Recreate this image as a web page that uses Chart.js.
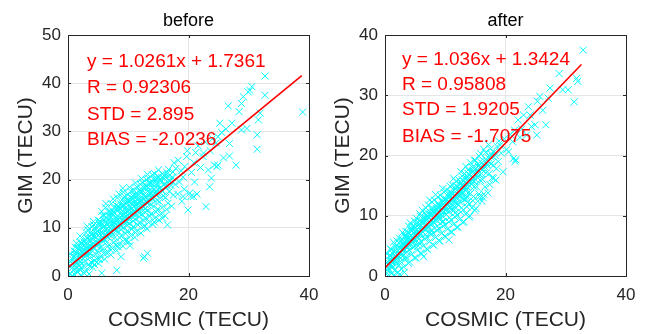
<!DOCTYPE html>
<html>
<head>
<meta charset="utf-8">
<script src="https://cdn.jsdelivr.net/npm/chart.js@4.4.1/dist/chart.umd.min.js"></script>
<style>
  body { margin: 0; background: #fff; width: 646px; height: 334px; overflow: hidden; position: relative; }
  canvas { position: absolute; top: 0; }
  #before { left: 0; }
  #after { left: 317px; }
</style>
</head>
<body>
<canvas id="before" width="323" height="334"></canvas>
<canvas id="after" width="323" height="334"></canvas>
<script>
// panel titles and text
const titles = ["before", "after"];
const xLabel = "COSMIC (TECU)";
const yLabel = "GIM (TECU)";
const statsBefore = ["y = 1.0261x + 1.7361", "R = 0.92306", "STD = 2.895", "BIAS = -2.0236"];
const statsAfter = ["y = 1.036x + 1.3424", "R = 0.95808", "STD = 1.9205", "BIAS = -1.7075"];

// axis ranges / ticks
const xTicks = [0, 20, 40];
const yMaxBefore = 50;
const yMaxAfter = 40;

// fitted lines (endpoints)
const fitBeforeX = [0, 38.8];
const fitBeforeY = [1.74, 41.55];
const fitAfterX = [0, 32.6];
const fitAfterY = [1.34, 35.1];

// scatter points [COSMIC, GIM]
const pointsBefore = [
  [0.3,0.5],[0.5,2.1],[0.8,3.4],[0.4,4.6],[0.9,1.2],[0.2,0.2],[0.7,0.1],[1.0,2.8],
  [1.1,0.3],[1.3,1.6],[1.5,3.0],[1.2,4.4],[1.7,5.6],[1.9,2.2],[1.4,6.8],[1.6,0.8],[1.8,4.0],[1.0,5.2],[1.5,1.0],
  [2.1,0.2],[2.3,1.5],[2.6,2.9],[2.2,4.1],[2.8,5.3],[2.4,6.5],[2.9,7.6],[2.5,3.6],[2.7,0.6],[2.0,8.3],[2.3,5.8],[2.9,4.4],[2.6,2.1],
  [3.1,1.0],[3.4,2.4],[3.6,3.8],[3.2,5.1],[3.8,6.2],[3.5,7.4],[3.9,8.5],[3.3,9.6],[3.7,4.6],[3.0,6.9],[3.5,0.4],[3.9,2.8],[3.2,10.3],[3.6,5.7],
  [4.1,1.8],[4.4,3.2],[4.6,4.5],[4.2,5.9],[4.8,7.0],[4.5,8.3],[4.9,9.4],[4.3,10.6],[4.7,6.3],[4.0,7.7],[4.4,2.4],[4.9,5.2],[4.2,11.3],[4.6,9.0],[4.8,3.6],
  [5.1,2.6],[5.4,4.0],[5.6,5.4],[5.2,6.7],[5.8,7.9],[5.5,9.1],[5.9,10.2],[5.3,11.4],[5.7,12.5],[5.0,8.4],[5.4,6.0],[5.9,4.7],[5.2,10.8],[5.6,13.4],[5.8,8.8],[5.6,0.6],
  [6.1,3.5],[6.4,4.8],[6.6,6.2],[6.2,7.5],[6.8,8.6],[6.5,9.8],[6.9,11.0],[6.3,12.1],[6.7,13.3],[6.0,10.4],[6.4,7.0],[6.9,5.6],[6.2,14.2],[6.6,9.2],[6.8,11.7],[6.3,15.0],
  [7.1,4.4],[7.4,5.7],[7.6,7.0],[7.2,8.3],[7.8,9.5],[7.5,10.6],[7.9,11.8],[7.3,12.9],[7.7,14.1],[7.0,9.9],[7.4,13.5],[7.9,6.4],[7.2,15.0],[7.6,11.2],[7.8,8.0],[7.5,16.0],
  [8.1,5.3],[8.4,6.6],[8.6,7.9],[8.2,9.1],[8.8,10.3],[8.5,11.5],[8.9,12.6],[8.3,13.8],[8.7,15.0],[8.0,10.8],[8.4,14.4],[8.9,8.5],[8.2,16.2],[8.6,12.0],[8.8,9.6],[8.5,17.0],[8.8,4.0],[8.1,1.2],
  [9.1,6.2],[9.4,7.5],[9.6,8.8],[9.2,10.0],[9.8,11.2],[9.5,12.3],[9.9,13.5],[9.3,14.7],[9.7,15.8],[9.0,11.7],[9.4,16.5],[9.9,9.4],[9.2,17.4],[9.6,13.0],[9.8,10.5],[9.5,14.1],[9.1,18.2],
  [10.1,7.1],[10.4,8.4],[10.6,9.7],[10.2,10.9],[10.8,12.1],[10.5,13.3],[10.9,14.4],[10.3,15.6],[10.7,16.7],[10.0,12.6],[10.4,17.6],[10.9,10.3],[10.2,18.4],[10.6,14.0],[10.8,11.4],[10.5,15.1],[10.3,6.3],
  [11.1,8.0],[11.4,9.3],[11.6,10.6],[11.2,11.8],[11.8,13.0],[11.5,14.2],[11.9,15.3],[11.3,16.5],[11.7,17.6],[11.0,13.5],[11.4,18.5],[11.9,11.2],[11.2,19.3],[11.6,15.0],[11.8,12.3],[11.5,16.0],
  [12.1,8.9],[12.4,10.2],[12.6,11.5],[12.2,12.7],[12.8,13.9],[12.5,15.1],[12.9,16.2],[12.3,17.4],[12.7,18.5],[12.0,14.4],[12.4,19.4],[12.9,12.1],[12.2,20.2],[12.6,16.0],[12.8,13.2],[12.5,3.7],
  [13.1,9.8],[13.4,11.1],[13.6,12.4],[13.2,13.6],[13.8,14.8],[13.5,16.0],[13.9,17.1],[13.3,18.3],[13.7,19.4],[13.0,15.3],[13.4,20.3],[13.9,13.0],[13.2,21.1],[13.6,17.0],[13.2,4.7],[12.7,4.0],
  [14.1,10.7],[14.4,12.0],[14.6,13.3],[14.2,14.5],[14.8,15.7],[14.5,16.9],[14.9,18.0],[14.3,19.2],[14.7,20.3],[14.0,16.2],[14.4,21.2],[14.9,13.9],[14.6,17.5],
  [15.1,11.6],[15.4,12.9],[15.6,14.2],[15.2,15.4],[15.8,16.6],[15.5,17.8],[15.9,18.9],[15.3,20.1],[15.7,21.2],[15.0,17.1],[15.7,12.0],
  [16.1,12.5],[16.4,13.8],[16.6,15.1],[16.2,16.3],[16.8,17.5],[16.5,18.7],[16.9,19.8],[16.3,21.0],[16.7,22.1],[16.5,10.6],
  [17.2,14.5],[17.5,16.8],[17.8,19.0],[17.3,20.5],[17.9,22.3],[17.6,23.5],[18.2,17.0],[18.5,19.5],[18.8,21.8],[18.3,24.0],[18.9,15.5],
  [19.1,20.5],[19.4,22.7],[19.7,24.8],[19.3,18.0],[19.8,26.0],[19.9,13.7],[20.2,17.2],[19.1,16.5],
  [20.4,16.5],[20.8,16.5],[21.4,17.0],[20.5,21.5],[20.9,23.5],[21.2,25.6],[21.6,27.0],[21.0,19.5],[22.0,22.5],[22.4,24.8],
  [22.5,25.5],[22.8,27.8],[22.9,14.4],[23.3,22.0],[23.5,18.5],[23.8,20.3],[23.6,26.0],[24.0,28.5],[24.3,23.0],[24.6,27.6],
  [24.7,22.7],[24.9,28.9],[24.9,23.0],[25.2,31.7],[25.5,29.8],[25.8,24.5],[26.2,30.5],[26.6,35.3],[26.8,27.5],[26.8,24.9],
  [27.2,31.7],[27.9,23.0],[28.4,34.1],[28.8,35.8],[28.8,30.3],[29.1,37.2],[29.7,30.6],[29.9,38.2],[30.5,39.3],[30.2,38.5],
  [31.4,29.3],[31.4,26.3],[31.6,32.4],[31.9,33.8],[32.7,37.5],[32.7,41.5],[38.95,34.0],
  // dense core
  [0.6,1.6],[0.9,3.9],[1.1,2.2],[1.3,5.0],[1.6,3.4],[1.8,6.2],[2.1,3.0],[2.3,5.3],[2.6,7.1],[2.8,4.0],
  [3.1,6.0],[3.3,8.0],[3.6,4.9],[3.8,7.3],[4.1,8.9],[4.3,5.7],[4.6,7.9],[4.8,10.0],[5.1,6.6],[5.3,8.7],
  [5.6,10.8],[5.8,7.2],[6.1,9.4],[6.3,11.3],[6.6,8.1],[6.8,10.3],[7.1,12.3],[7.3,8.9],[7.6,11.0],[7.8,13.1],
  [8.1,9.5],[8.3,11.8],[8.6,13.9],[8.8,10.6],[9.1,12.6],[9.3,14.6],[9.6,11.3],[9.8,13.4],[10.1,15.4],[10.3,12.0],
  [10.6,14.1],[10.8,16.1],[11.1,12.8],[11.3,14.9],[11.6,16.9],[11.8,13.6],[12.1,15.8],[12.3,17.8],[12.6,14.4],[12.8,16.6],
  [13.1,18.6],[13.3,15.2],[13.6,17.3],[13.8,19.3],[14.1,16.0],[14.3,18.1],[14.6,19.9],[14.8,16.8],[15.1,18.8],[15.4,19.7],
  [15.7,17.6],[16.0,20.2],[16.3,18.3],[16.8,20.8],[17.1,18.8],[17.4,21.6],[12.0,19.0],[11.0,17.8],[10.0,16.9],[9.0,15.8],
  [8.0,14.7],[7.0,13.4],[6.0,12.6],[5.0,11.6],[4.0,10.2],[3.0,9.0],[2.0,7.0],[1.2,6.0],[13.0,20.0],[14.0,21.0],
  [15.0,22.0],[0.4,3.0],[1.9,1.4],[3.6,2.0],[5.2,3.5],[6.7,4.9],[8.3,6.1],[9.7,7.3],[11.2,9.0],[12.8,10.4],[14.3,11.2],
  [0.7,2.6],[1.0,4.1],[1.4,2.7],[1.6,5.9],[2.0,4.6],[2.2,6.9],[2.5,4.7],[2.7,6.4],[3.0,5.0],[3.2,7.8],
  [3.5,6.2],[3.7,9.0],[4.0,6.6],[4.2,8.3],[4.5,9.9],[4.7,7.2],[5.0,9.3],[5.2,11.0],[5.5,7.8],[5.7,9.9],
  [6.0,11.6],[6.2,8.6],[6.5,10.7],[6.7,12.5],[7.0,9.3],[7.2,11.4],[7.5,13.2],[7.7,10.0],[8.0,12.2],[8.2,14.0],
  [8.5,10.8],[8.7,12.9],[9.0,14.6],[9.2,11.4],[9.5,13.6],[9.7,15.4],[10.0,12.0],[10.2,14.3],[10.5,16.2],[10.7,13.0],
  [11.0,15.1],[11.2,17.0],[11.5,13.8],[11.7,15.9],[12.0,17.6],[12.2,14.6],[12.5,16.7],[12.7,18.9],[13.0,15.4],[13.2,17.6],
  [13.5,19.3],[13.7,16.2],[14.0,18.3],[14.2,20.1],[14.5,17.2],[14.7,19.1],[15.0,20.6],[15.3,18.2],[15.6,20.4],[16.0,19.1],
  [16.4,21.5],[16.9,19.6],[17.4,20.4]
];

const pointsAfter = [
  [0.2,0.3],[0.5,1.4],[0.8,2.6],[0.3,3.7],[0.9,4.5],[0.6,0.2],[1.0,1.9],
  [1.1,0.4],[1.3,1.5],[1.5,2.7],[1.2,3.8],[1.7,4.9],[1.9,2.0],[1.4,5.6],[1.6,0.9],[1.8,3.3],[1.0,4.4],
  [2.1,0.5],[2.3,1.8],[2.6,3.0],[2.2,4.2],[2.8,5.3],[2.4,6.3],[2.9,7.2],[2.5,3.7],[2.7,1.2],[2.0,5.8],[2.9,4.5],[2.6,2.4],
  [3.1,1.5],[3.4,2.8],[3.6,4.0],[3.2,5.2],[3.8,6.3],[3.5,7.4],[3.9,8.3],[3.3,6.7],[3.7,4.7],[3.0,3.4],[3.9,2.1],[3.6,5.8],
  [4.1,2.3],[4.4,3.6],[4.6,4.8],[4.2,6.0],[4.8,7.1],[4.5,8.2],[4.9,9.1],[4.3,7.6],[4.7,5.5],[4.0,4.3],[4.9,3.0],[4.5,6.5],[4.2,8.8],
  [5.1,3.0],[5.4,4.3],[5.6,5.5],[5.2,6.7],[5.8,7.8],[5.5,8.9],[5.9,9.9],[5.3,8.3],[5.7,6.2],[5.0,5.0],[5.9,3.8],[5.5,7.2],[5.2,9.6],[5.8,10.3],
  [6.1,3.7],[6.4,5.0],[6.6,6.2],[6.2,7.4],[6.8,8.5],[6.5,9.6],[6.9,10.6],[6.3,9.0],[6.7,6.9],[6.0,5.7],[6.9,4.5],[6.5,7.9],[6.2,10.9],[6.8,11.3],[6.4,3.2],
  [7.1,4.4],[7.4,5.7],[7.6,6.9],[7.2,8.1],[7.8,9.2],[7.5,10.3],[7.9,11.3],[7.3,9.7],[7.7,7.6],[7.0,6.4],[7.9,5.2],[7.5,8.6],[7.2,11.8],[7.8,12.3],[7.4,12.6],
  [8.1,5.1],[8.4,6.4],[8.6,7.6],[8.2,8.8],[8.8,9.9],[8.5,11.0],[8.9,12.0],[8.3,10.4],[8.7,8.3],[8.0,7.1],[8.9,5.9],[8.5,9.3],[8.2,12.6],[8.8,13.1],[8.4,13.5],
  [9.1,5.8],[9.4,7.1],[9.6,8.3],[9.2,9.5],[9.8,10.6],[9.5,11.7],[9.9,12.7],[9.3,11.1],[9.7,9.0],[9.0,7.8],[9.9,6.6],[9.5,10.0],[9.2,13.4],[9.8,13.9],[9.6,14.5],
  [10.1,6.5],[10.4,7.8],[10.6,9.0],[10.2,10.2],[10.8,11.3],[10.5,12.4],[10.9,13.4],[10.3,11.8],[10.7,9.7],[10.0,8.5],[10.9,7.3],[10.5,10.7],[10.2,14.3],[10.8,14.9],[10.6,6.0],
  [11.1,7.3],[11.4,8.6],[11.6,9.8],[11.2,11.0],[11.8,12.1],[11.5,13.2],[11.9,14.2],[11.3,12.6],[11.7,10.5],[11.0,9.3],[11.9,8.1],[11.5,11.5],[11.2,15.1],[11.8,15.7],[11.4,16.2],
  [12.1,8.1],[12.4,9.4],[12.6,10.6],[12.2,11.8],[12.8,12.9],[12.5,14.0],[12.9,15.0],[12.3,13.4],[12.7,11.3],[12.0,10.1],[12.9,8.9],[12.5,12.3],[12.2,16.0],[12.8,16.6],[12.6,17.3],
  [13.1,9.0],[13.4,10.3],[13.6,11.5],[13.2,12.7],[13.8,13.8],[13.5,14.9],[13.9,15.9],[13.3,14.3],[13.7,12.2],[13.0,11.0],[13.9,9.8],[13.5,13.2],[13.2,17.0],[13.8,17.6],[13.4,18.2],
  [14.1,10.0],[14.4,11.3],[14.6,12.5],[14.2,13.7],[14.8,14.8],[14.5,15.9],[14.9,16.9],[14.3,15.3],[14.7,13.2],[14.0,12.0],[14.9,10.9],[14.5,18.0],[14.2,18.8],[14.8,19.2],
  [15.1,11.2],[15.4,12.4],[15.6,13.6],[15.2,14.8],[15.8,15.9],[15.5,17.0],[15.9,18.0],[15.3,16.4],[15.7,13.2],[15.0,19.2],[15.6,19.9],[15.9,20.3],
  [16.1,12.4],[16.4,13.6],[16.6,14.8],[16.2,16.0],[16.8,17.1],[16.5,18.2],[16.9,19.2],[16.3,13.0],[16.7,20.5],[16.4,21.0],
  [17.1,13.8],[17.4,15.2],[17.3,17.0],[17.6,18.6],[17.9,19.8],[17.5,21.1],[17.8,16.3],[17.2,21.8],
  [18.0,16.2],[18.4,15.9],[18.0,18.4],[18.3,20.0],[18.6,21.5],[18.9,22.4],[18.5,17.8],[18.8,19.0],
  [19.1,21.7],[19.6,17.3],[19.3,20.4],[19.8,22.8],[20.2,21.0],[20.5,20.6],[20.8,23.5],[21.3,19.5],[21.6,19.0],[21.7,19.3],
  [21.2,22.3],[21.5,24.2],[22.1,25.9],[22.4,23.0],[22.7,24.4],
  [23.0,26.7],[23.5,23.4],[23.8,28.1],[24.1,26.7],[24.3,24.8],[24.9,25.1],[25.2,23.4],[25.3,29.0],[25.7,29.8],[26.2,27.5],
  [26.7,25.1],[27.1,29.5],[27.4,31.2],[28.9,33.6],[29.5,30.9],[30.4,30.9],[31.4,28.9],[31.8,32.8],[32.0,32.3],[32.9,37.5],
  // dense core
  [0.5,2.0],[0.8,3.4],[1.1,1.6],[1.3,3.0],[1.6,4.1],[1.8,2.6],[2.1,3.4],[2.3,4.8],[2.6,5.8],[2.8,3.6],
  [3.1,4.5],[3.3,5.7],[3.6,6.7],[3.8,4.9],[4.1,5.5],[4.3,6.8],[4.6,7.7],[4.8,6.0],[5.1,6.6],[5.3,7.7],
  [5.6,8.6],[5.8,6.8],[6.1,7.5],[6.3,8.7],[6.6,9.6],[6.8,7.7],[7.1,8.4],[7.3,9.6],[7.6,10.5],[7.8,8.6],
  [8.1,9.4],[8.3,10.6],[8.6,11.5],[8.8,9.6],[9.1,10.4],[9.3,11.6],[9.6,12.5],[9.8,10.6],[10.1,11.4],[10.3,12.6],
  [10.6,13.5],[10.8,11.5],[11.1,12.4],[11.3,13.6],[11.6,14.5],[11.8,12.5],[12.1,13.4],[12.3,14.6],[12.6,15.5],[12.8,13.6],
  [13.1,14.4],[13.3,15.6],[13.6,16.5],[13.8,14.6],[14.1,15.5],[14.3,16.6],[14.6,17.4],[14.8,15.7],[15.1,16.6],[15.3,17.6],
  [15.6,18.4],[15.8,16.8],[16.1,17.6],[16.3,18.6],[16.7,19.4],[17.0,18.4],[17.5,19.8],[18.1,20.6],[0.3,1.0],[1.0,2.6],
  [2.0,4.0],[3.0,5.3],[4.0,6.4],[5.0,7.4],[6.0,8.4],[7.0,9.5],[8.0,10.6],[9.0,11.6],[10.0,12.6],[11.0,13.8],
  [12.0,14.8],[13.0,15.8],[14.0,16.8],[3.5,3.2],[5.5,5.0],[7.5,7.2],[9.5,9.0],[11.5,11.0],[13.5,12.8],[1.5,0.2],
  [2.5,0.3],[3.2,0.6],
  [0.4,2.4],[0.7,1.1],[1.0,3.3],[1.3,2.2],[1.5,4.0],[1.8,2.9],[2.0,4.9],[2.3,3.2],[2.5,4.6],[2.8,6.1],
  [3.0,4.2],[3.3,5.1],[3.5,6.3],[3.8,7.3],[4.0,5.1],[4.3,6.2],[4.5,7.5],[4.8,8.3],[5.0,6.1],[5.3,7.0],
  [5.5,8.4],[5.8,9.2],[6.0,7.0],[6.3,7.9],[6.5,9.3],[6.8,10.1],[7.0,8.0],[7.3,8.8],[7.5,10.2],[7.8,11.0],
  [8.0,9.0],[8.3,9.8],[8.5,11.2],[8.8,12.0],[9.0,10.0],[9.3,10.8],[9.5,12.2],[9.8,13.0],[10.0,11.0],[10.3,11.8],
  [10.5,13.2],[10.8,14.0],[11.0,12.0],[11.3,12.8],[11.5,14.2],[11.8,15.0],[12.0,13.0],[12.3,13.8],[12.5,15.2],[12.8,16.0],
  [13.0,14.0],[13.3,14.8],[13.5,16.2],[13.8,17.0],[14.0,15.0],[14.3,15.8],[14.5,17.2],[14.8,18.0],[15.0,16.0],[15.3,16.8],
  [15.5,18.2],[15.8,19.0],[16.0,17.0],[16.4,17.9],[16.8,18.8],[17.2,19.6],[17.6,20.3]
];

const FONT = '"Liberation Sans", Arial, Helvetica, sans-serif';

// box, inward ticks and the red statistics text
const matlabAxes = {
  id: "matlabAxes",
  afterDatasetsDraw(chart, args, opts) {
    const { ctx, chartArea: a, scales } = chart;
    ctx.save();
    ctx.strokeStyle = "#262626";
    ctx.lineWidth = 1;
    ctx.beginPath();
    scales.x.ticks.forEach(t => {
      const px = Math.round(scales.x.getPixelForValue(t.value)) + 0.5;
      ctx.moveTo(px, a.bottom); ctx.lineTo(px, a.bottom - 3);
      ctx.moveTo(px, a.top); ctx.lineTo(px, a.top + 3);
    });
    scales.y.ticks.forEach(t => {
      const py = Math.round(scales.y.getPixelForValue(t.value)) + 0.5;
      ctx.moveTo(a.left, py); ctx.lineTo(a.left + 3, py);
      ctx.moveTo(a.right, py); ctx.lineTo(a.right - 3, py);
    });
    ctx.stroke();
    ctx.strokeRect(Math.round(a.left) + 0.5, Math.round(a.top) + 0.5,
      Math.round(a.right - a.left), Math.round(a.bottom - a.top));

    ctx.fillStyle = "#ff0000";
    ctx.font = "19px " + FONT;
    ctx.textBaseline = "middle";
    ctx.textAlign = "left";
    opts.lines.forEach((line, i) => {
      ctx.fillText(line, a.left + opts.dx, a.top + opts.dy[i]);
    });
    ctx.restore();
  }
};

function makeChart(id, title, pts, fitX, fitY, yMax, stats, dx, dy) {
  const ctx = document.getElementById(id).getContext("2d");
  return new Chart(ctx, {
    type: "scatter",
    data: {
      datasets: [
        {
          type: "line",
          data: fitX.map((x, i) => ({ x, y: fitY[i] })),
          borderColor: "#ff0000",
          borderWidth: 1.6,
          pointRadius: 0,
          fill: false
        },
        {
          data: pts.map(p => ({ x: p[0], y: p[1] })),
          pointStyle: "crossRot",
          pointRadius: 5,
          borderColor: "#00ffff",
          backgroundColor: "#00ffff",
          pointBorderWidth: 1
        }
      ]
    },
    options: {
      responsive: false,
      animation: false,
      devicePixelRatio: 1,
      layout: { padding: { left: 0, right: 14, top: 0, bottom: 0 } },
      plugins: {
        legend: { display: false },
        tooltip: { enabled: false },
        title: {
          display: true,
          fullSize: false,
          text: title,
          color: "#000",
          font: { family: FONT, size: 18, weight: "normal" },
          padding: { top: 10, bottom: 3.4 }
        },
        matlabAxes: { lines: stats, dx: dx, dy: dy }
      },
      scales: {
        x: {
          type: "linear",
          min: 0, max: 40,
          afterBuildTicks: s => { s.ticks = xTicks.map(v => ({ value: v })); },
          afterFit: s => { s.height = 58; s.paddingLeft = 0; s.paddingRight = 0; },
          grid: { color: "#e5e5e5", drawTicks: false },
          border: { display: false },
          ticks: { color: "#262626", padding: 9, maxRotation: 0, font: { family: FONT, size: 17 } },
          title: {
            display: true, text: xLabel, color: "#262626",
            font: { family: FONT, size: 21 }, padding: { top: 0, bottom: 1 }
          }
        },
        y: {
          type: "linear",
          min: 0, max: yMax,
          ticks: { stepSize: 10, color: "#262626", padding: 7, font: { family: FONT, size: 17 } },
          afterFit: s => { s.width = 68; s.paddingTop = 0; s.paddingBottom = 0; },
          grid: { color: "#e5e5e5", drawTicks: false },
          border: { display: false },
          title: {
            display: true, text: yLabel, color: "#262626",
            font: { family: FONT, size: 21 }, padding: { top: 14, bottom: 0 }
          }
        }
      }
    },
    plugins: [matlabAxes]
  });
}

makeChart("before", titles[0], pointsBefore, fitBeforeX, fitBeforeY, yMaxBefore, statsBefore, 19, [27, 53, 80, 105]);
makeChart("after", titles[1], pointsAfter, fitAfterX, fitAfterY, yMaxAfter, statsAfter, 17, [25, 50, 75, 102]);
</script>
</body>
</html>
